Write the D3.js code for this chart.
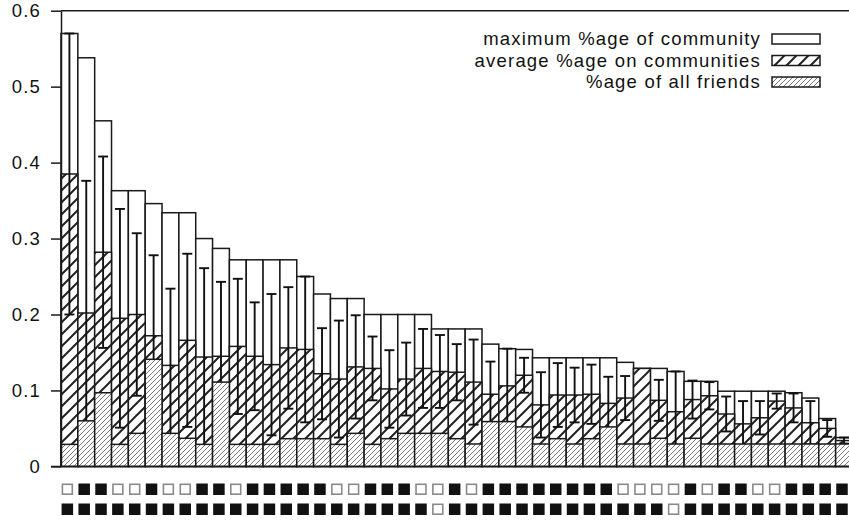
<!DOCTYPE html>
<html>
<head>
<meta charset="utf-8">
<script src="https://cdn.jsdelivr.net/npm/d3@7"></script>
<style>
  html, body { margin: 0; padding: 0; background: #fff; }
  svg { display: block; }
  text { font-family: "Liberation Sans", Arial, Helvetica, sans-serif; fill: #111; }
</style>
</head>
<body>
<svg id="chart" width="849" height="520"></svg>
<script>
// Per-user shares, sorted by the largest community share
const maxShare = [0.570, 0.538, 0.455, 0.363, 0.363, 0.346, 0.334, 0.334, 0.300, 0.287,
  0.272, 0.272, 0.272, 0.272, 0.250, 0.227, 0.221, 0.221, 0.200, 0.200,
  0.200, 0.200, 0.181, 0.181, 0.181, 0.161, 0.155, 0.154, 0.143, 0.143,
  0.143, 0.143, 0.143, 0.137, 0.129, 0.129, 0.125, 0.112, 0.112, 0.099,
  0.099, 0.099, 0.099, 0.097, 0.090, 0.063, 0.038];
const avgShare = [0.385, 0.202, 0.282, 0.195, 0.200, 0.172, 0.133, 0.166, 0.144, 0.145,
  0.158, 0.145, 0.134, 0.156, 0.154, 0.122, 0.115, 0.131, 0.129, 0.102,
  0.115, 0.129, 0.125, 0.124, 0.111, 0.095, 0.106, 0.120, 0.081, 0.094,
  0.094, 0.095, 0.083, 0.090, 0.129, 0.087, 0.072, 0.088, 0.093, 0.069,
  0.056, 0.064, 0.086, 0.077, 0.0575, 0.050, 0.034];
const avgErr = [0.185, 0.174, 0.126, 0.144, 0.107, 0.106, 0.101, 0.114, 0.117, 0.098,
  0.089, 0.071, 0.093, 0.080, 0.096, 0.060, 0.077, 0.068, 0.042, 0.051,
  0.048, 0.052, 0.048, 0.037, 0.056, 0.043, 0.049, 0.023, 0.043, 0.042,
  0.036, 0.039, 0.035, 0.029, 0.000, 0.027, 0.053, 0.025, 0.018, 0.023,
  0.030, 0.022, 0.010, 0.019, 0.0285, 0.011, 0.004];
const allFriends = [0.029, 0.060, 0.097, 0.029, 0.0435, 0.141, 0.0435, 0.037, 0.029, 0.111,
  0.029, 0.029, 0.029, 0.0365, 0.0365, 0.0365, 0.029, 0.0435, 0.029, 0.0365,
  0.0435, 0.0435, 0.0435, 0.0365, 0.0295, 0.059, 0.059, 0.052, 0.0295, 0.0365,
  0.0295, 0.0365, 0.052, 0.0295, 0.0295, 0.037, 0.0295, 0.037, 0.0295, 0.0295,
  0.0295, 0.0295, 0.0295, 0.0295, 0.0295, 0.0295, 0.0295];
// Marker rows under each user: 1 = filled square, 0 = open square
const flagRowA = [0,1,1,0,0,1,0,0,1,1, 0,1,1,1,1,1,0,0,1,1,
  1,0,0,1,0,1,1,1,1,1, 1,1,1,0,0,0,0,1,0,1, 1,0,0,1,1,1,1];
const flagRowB = [1,1,1,1,1,1,1,1,1,1, 1,1,1,1,1,1,1,1,1,1,
  1,1,0,1,1,1,1,1,1,1, 1,1,1,1,1,1,0,1,1,1, 1,1,1,1,1,1,1];
const yTicks = [0, 0.1, 0.2, 0.3, 0.4, 0.5, 0.6];
const yTickLabels = ["0", "0.1", "0.2", "0.3", "0.4", "0.5", "0.6"];
const legendLabels = ["maximum %age of community", "average %age on communities", "%age of all friends"];

const users = d3.range(maxShare.length);
const svg = d3.select("#chart");

const left = 61, barW = 16.84, yTop = 10.7, yBase = 466.4;
const x = d3.scaleBand().domain(users).range([left, left + barW * users.length]).padding(0);
const y = d3.scaleLinear().domain([0, 0.6]).range([yBase, yTop]);

// hatch patterns
const defs = svg.append("defs");
const pA = defs.append("pattern").attr("id", "hatchAvg")
  .attr("patternUnits", "userSpaceOnUse").attr("width", 12).attr("height", 12);
pA.append("rect").attr("width", 12).attr("height", 12).attr("fill", "#fff");
pA.append("path").attr("d", "M-3,3 L3,-3 M0,12 L12,0 M9,15 L15,9")
  .attr("stroke", "#222").attr("stroke-width", 2);
const pF = defs.append("pattern").attr("id", "hatchFriends")
  .attr("patternUnits", "userSpaceOnUse").attr("width", 5).attr("height", 5);
pF.append("rect").attr("width", 5).attr("height", 5).attr("fill", "#fff");
pF.append("path").attr("d", "M-1,1 L1,-1 M0,5 L5,0 M4,6 L6,4")
  .attr("stroke", "#6a6a6a").attr("stroke-width", 0.9);

const outline = "#1a1a1a", outW = 1.5;

// maximum share (open boxes)
svg.append("g").selectAll("rect").data(users).join("rect")
  .attr("x", i => x(i)).attr("width", x.bandwidth())
  .attr("y", i => y(maxShare[i])).attr("height", i => y(0) - y(maxShare[i]))
  .attr("fill", "#fff").attr("stroke", outline).attr("stroke-width", outW);

// average share (hatched)
svg.append("g").selectAll("rect").data(users).join("rect")
  .attr("x", i => x(i)).attr("width", x.bandwidth())
  .attr("y", i => y(avgShare[i])).attr("height", i => y(0) - y(avgShare[i]))
  .attr("fill", "url(#hatchAvg)").attr("stroke", outline).attr("stroke-width", outW);

// error bars on the average
const cap = 5;
const eb = svg.append("g").attr("stroke", "#111").attr("stroke-width", 1.9);
users.filter(i => avgErr[i] > 0).forEach(i => {
  const cx = x(i) + x.bandwidth() / 2;
  const lo = y(avgShare[i] - avgErr[i]), hi = y(avgShare[i] + avgErr[i]);
  eb.append("line").attr("x1", cx).attr("x2", cx).attr("y1", lo).attr("y2", hi);
  eb.append("line").attr("x1", cx - cap).attr("x2", cx + cap).attr("y1", lo).attr("y2", lo);
  eb.append("line").attr("x1", cx - cap).attr("x2", cx + cap).attr("y1", hi).attr("y2", hi);
});

// share of all friends (fine hatch)
svg.append("g").selectAll("rect").data(users).join("rect")
  .attr("x", i => x(i)).attr("width", x.bandwidth())
  .attr("y", i => y(allFriends[i])).attr("height", i => y(0) - y(allFriends[i]))
  .attr("fill", "url(#hatchFriends)").attr("stroke", outline).attr("stroke-width", outW);

// frame
svg.append("line").attr("x1", left).attr("x2", 849).attr("y1", yTop).attr("y2", yTop)
  .attr("stroke", outline).attr("stroke-width", outW);
svg.append("line").attr("x1", left - 10).attr("x2", 849).attr("y1", yBase).attr("y2", yBase)
  .attr("stroke", outline).attr("stroke-width", outW);

// y axis
const yAxis = d3.axisLeft(y).tickValues(yTicks)
  .tickFormat((d, k) => yTickLabels[k]).tickSize(10).tickSizeOuter(0).tickPadding(10);
const ax = svg.append("g").attr("transform", `translate(${left},0)`).call(yAxis);
ax.select(".domain").attr("stroke", outline).attr("stroke-width", outW);
ax.selectAll(".tick line").attr("stroke", outline).attr("stroke-width", outW);
ax.selectAll(".tick text").attr("font-size", "18.5px").attr("letter-spacing", "1.2px")
  .attr("font-family", "Liberation Sans, Arial, sans-serif").attr("fill", "#111");

// marker squares
const sq = 11.5;
[[flagRowA, 483.5], [flagRowB, 503.5]].forEach(([row, top]) => {
  svg.append("g").selectAll("rect").data(users).join("rect")
    .attr("x", i => x(i) + 0.6 + (row[i] ? 0 : 0.8)).attr("y", i => top + (row[i] ? 0 : 0.8))
    .attr("width", i => row[i] ? sq : sq - 1.6).attr("height", i => row[i] ? sq : sq - 1.6)
    .attr("fill", i => row[i] ? "#111" : "#fff")
    .attr("stroke", i => row[i] ? "none" : "#8a8a8a").attr("stroke-width", 1.6);
});

// legend
const fills = ["#fff", "url(#hatchAvg)", "url(#hatchFriends)"];
const lg = svg.append("g");
legendLabels.forEach((t, k) => {
  const cy = 39 + k * 21.5;
  lg.append("text").attr("x", 761).attr("y", cy).attr("dy", "0.35em")
    .attr("text-anchor", "end").attr("font-size", "18.5px").attr("letter-spacing", "1.2px").text(t);
  lg.append("rect").attr("x", 772).attr("y", cy - 5).attr("width", 48).attr("height", 10)
    .attr("fill", fills[k]).attr("stroke", outline).attr("stroke-width", outW);
});
</script>
</body>
</html>
